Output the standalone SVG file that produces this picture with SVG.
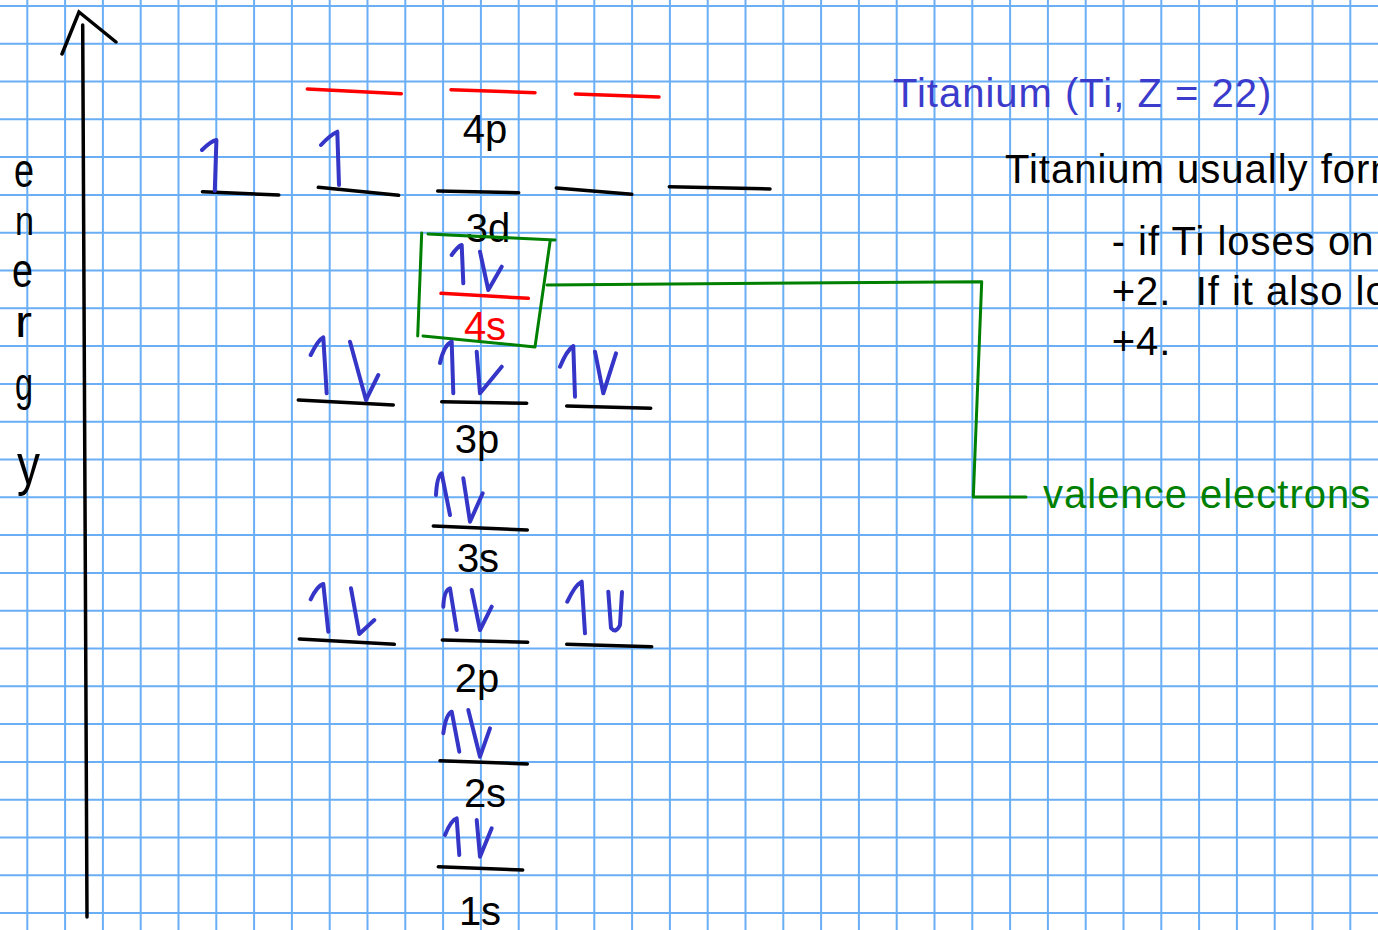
<svg xmlns="http://www.w3.org/2000/svg" width="1378" height="930" viewBox="0 0 1378 930">
<style>
.grid{stroke:#6aaef5;stroke-width:2;fill:none}
.lvl{stroke:#000;stroke-width:3.5;stroke-linecap:round;fill:none}
.red{stroke:#ff0000;stroke-width:3.5;stroke-linecap:round;fill:none}
.spin{stroke:#3535c8;stroke-width:4;stroke-linecap:round;stroke-linejoin:round;fill:none}
.grn{stroke:#008000;stroke-width:3;stroke-linecap:round;stroke-linejoin:round;fill:none}
.lbl{font-family:"Liberation Sans",Arial,sans-serif;font-size:40px;fill:#000;text-anchor:middle}
.txt{font-family:"Liberation Sans",Arial,sans-serif;font-size:40px;fill:#000;letter-spacing:1px;white-space:pre}
.hand{font-family:"Liberation Sans",Arial,sans-serif;fill:#000}
</style>
<rect width="1378" height="930" fill="#fff"/>
<g id="grid">
<path class="grid" d="M27.3 0V930M65.1 0V930M102.9 0V930M140.7 0V930M178.5 0V930M216.3 0V930M254.1 0V930M291.9 0V930M329.7 0V930M367.5 0V930M405.3 0V930M443.1 0V930M480.9 0V930M518.7 0V930M556.5 0V930M594.3 0V930M632.1 0V930M669.9 0V930M707.7 0V930M745.5 0V930M783.3 0V930M821.1 0V930M858.9 0V930M896.7 0V930M934.5 0V930M972.3 0V930M1010.1 0V930M1047.9 0V930M1085.7 0V930M1123.5 0V930M1161.3 0V930M1199.1 0V930M1236.9 0V930M1274.7 0V930M1312.5 0V930M1350.3 0V930"/>
<path class="grid" d="M0 5.9H1378M0 43.7H1378M0 81.5H1378M0 119.3H1378M0 157.1H1378M0 194.9H1378M0 232.7H1378M0 270.5H1378M0 308.3H1378M0 346.1H1378M0 383.9H1378M0 421.7H1378M0 459.5H1378M0 497.3H1378M0 535.1H1378M0 572.9H1378M0 610.7H1378M0 648.5H1378M0 686.3H1378M0 724.1H1378M0 761.9H1378M0 799.7H1378M0 837.5H1378M0 875.3H1378M0 913.1H1378"/>
</g>
<g id="energy-axis">
<path class="lvl" stroke-width="4" d="M82.7 25L87 917M62 54L79 12L116 42"/>
<text class="hand" x="14" y="187" font-size="48" textLength="20" lengthAdjust="spacingAndGlyphs">e</text>
<text class="hand" x="15" y="235" font-size="40" textLength="19" lengthAdjust="spacingAndGlyphs">n</text>
<text class="hand" x="12" y="287" font-size="48" textLength="21" lengthAdjust="spacingAndGlyphs">e</text>
<text class="hand" x="15" y="337" font-size="44" textLength="17" lengthAdjust="spacingAndGlyphs">r</text>
<text class="hand" x="15" y="400" font-size="46" textLength="18" lengthAdjust="spacingAndGlyphs">g</text>
<text class="hand" x="17" y="484" font-size="58" textLength="23" lengthAdjust="spacingAndGlyphs">y</text>
</g>
<g id="orbital-4p">
<path class="red" d="M307.3 89L401.3 93.7M451 89.7L535 92.7M575.3 94L659 97"/>
<text class="lbl" x="485" y="143">4p</text>
</g>
<g id="orbital-3d">
<path class="lvl" d="M202.5 191.7L278.8 195M318.3 187.3L398.6 195.3M437.7 191L518.7 192.7M556.3 188L631.8 194.3M669.3 186.7L770 189"/>
<path class="spin" d="M202 150Q211 141 216.4 140L214.8 190.7M321 145Q330 135 337.3 131.7L339 185"/>
<text class="lbl" x="488" y="242">3d</text>
</g>
<g id="orbital-4s">
<path class="red" d="M441 293.3L528.3 298.3"/>
<path class="spin" d="M451.7 255Q458 246 461.7 245L463.3 283.3M480 251.7L488.3 290L501.7 266.7"/>
<text class="lbl" x="485" y="340" style="fill:#ff0000">4s</text>
</g>
<g id="valence-box">
<path class="grn" d="M428 234L555 240M550 242L535 347L423 336M417.7 336L421.7 233"/>
</g>
<g id="orbital-3p">
<path class="lvl" d="M298.3 400L393.3 405M441.7 401.7L526.7 403.3M566.7 406L650.7 408.3"/>
<path class="spin" d="M310.7 355Q318 340 323.3 337.3L326.7 393.3M350 341.7L366 400L378.3 375M440 363Q444 345 451.7 341.7L453.3 393.3M476.7 351.7L480 393.3L501.7 366.7M560 366.7Q567 350 573.3 346L575 396.7M595 351.7L603.3 393.3L616 353.3"/>
<text class="lbl" x="477" y="453">3p</text>
</g>
<g id="orbital-3s">
<path class="lvl" d="M433.3 526L527.3 530"/>
<path class="spin" d="M436 495Q437 476 441.7 473.3L450 515M463.3 478.3L470 521.7L482.7 493.3"/>
<text class="lbl" x="478" y="572">3s</text>
</g>
<g id="orbital-2p">
<path class="lvl" d="M299.3 639L394.3 644.3M442.3 640L527.7 642.3M566.7 644.3L651.7 646.7"/>
<path class="spin" d="M310.7 599.3Q317 586 323.3 584L328.3 631.7M351 588.3L359.3 634L374.3 620M443.3 606.7Q444 590 450 588.3L456.7 630M471.7 590L480 630L491.7 606.7M567.3 601.7Q575 585 581.7 581.7L585 633.3M608.3 591.7L611 628Q616 634 620 625L622 592"/>
<text class="lbl" x="477" y="692">2p</text>
</g>
<g id="orbital-2s">
<path class="lvl" d="M440 760.7L527.3 764"/>
<path class="spin" d="M443.3 733.3Q446 714 451.7 711.7L459.3 751.7M468.3 710L480 756.7L490 728.3"/>
<text class="lbl" x="485" y="807">2s</text>
</g>
<g id="orbital-1s">
<path class="lvl" d="M438.3 866.7L522.7 870"/>
<path class="spin" d="M445 835Q451 820 456.7 818.3L459.3 855M476.7 820L480 856.7L491.7 828.3"/>
<text class="lbl" x="480" y="925">1s</text>
</g>
<g id="connectors">
<path class="grn" d="M547 285L981.7 281.7L973.3 497L1026 497"/>
</g>
<g id="valence-label">
<text class="txt" x="1043" y="508" style="fill:#008000">valence electrons</text>
</g>
<g id="title">
<text class="txt" x="893" y="107" style="fill:#3b3bcc">Titanium (Ti, Z = 22)</text>
</g>
<g id="notes">
<text class="txt" x="1005" y="183">Titanium usually form</text>
<text class="txt" x="1111.7" y="255">- if Ti loses on</text>
<text class="txt" x="1111.7" y="305">+2.  If it also lo</text>
<text class="txt" x="1111.7" y="355">+4.</text>
</g>
</svg>
